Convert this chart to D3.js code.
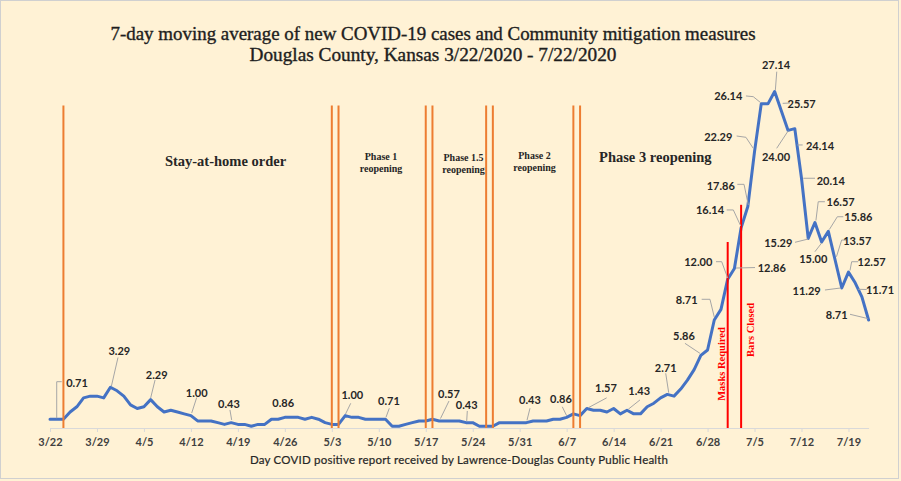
<!DOCTYPE html>
<html><head><meta charset="utf-8">
<script src="https://cdn.jsdelivr.net/npm/d3@7"></script>
<style>body{margin:0;background:#FFF2D5;} svg{display:block;}</style>
</head><body>
<script>
// ---------- DATA ----------
const startLabel = "3/22";
const endLabel = "7/22";
const values = [
 0.71,0.71,0.71,1.29,1.71,2.43,2.57,2.57,2.43,3.29,
 3.00,2.57,1.86,1.57,1.71,2.29,1.71,1.29,1.43,1.29,
 1.14,1.00,0.57,0.57,0.57,0.43,0.29,0.43,0.29,0.29,
 0.14,0.29,0.29,0.71,0.71,0.86,0.86,0.86,0.71,0.86,
 0.71,0.43,0.29,0.29,1.00,0.86,0.86,0.71,0.71,0.71,
 0.71,0.14,0.14,0.29,0.43,0.57,0.57,0.71,0.57,0.57,
 0.57,0.57,0.43,0.43,0.14,0.14,0.14,0.43,0.43,0.43,
 0.43,0.43,0.57,0.57,0.57,0.71,0.71,0.86,1.14,1.00,
 1.57,1.43,1.43,1.29,1.57,1.14,1.43,1.14,1.14,1.71,
 2.00,2.43,2.71,2.57,3.14,3.86,4.71,5.86,6.29,8.71,
 9.57,12.00,12.86,16.14,17.86,22.29,26.14,26.14,27.14,25.57,
 24.00,24.14,20.14,15.29,16.57,15.00,15.86,13.57,11.29,12.57,
 11.71,10.57,8.71
];
const tickLabels = ["3/22","3/29","4/5","4/12","4/19","4/26","5/3","5/10","5/17","5/24","5/31","6/7","6/14","6/21","6/28","7/5","7/12","7/19"];
const phaseLineDates = ["3/24","5/3","5/4","5/17","5/18","5/26","5/27","6/8","6/9"];
const maskDate = "7/1";
const barsDate = "7/3";
const labelDays = [1,9,15,21,27,35,44,50,58,62,71,77,80,86,92,97,99,101,102,103,104,105,106,108,109,110,111,112,113,114,115,116,117,118,119,120,122];
const titleLines = ["7-day moving average of  new COVID-19 cases and Community mitigation measures","Douglas County, Kansas 3/22/2020 - 7/22/2020"];
const xTitle = "Day COVID positive report received by Lawrence-Douglas County Public Health";

// ---------- LAYOUT (label offsets from their point, px) ----------
const labelLayout = [
 {t:[20.3,-36.7], l:[[0,-1],[0,-37.5],[5,-37.5]]},
 {t:[8.9,-37.2], l:[[7.6,-29.7],[1,-1]]},
 {t:[6.1,-25.6], l:[[4.4,-19.6],[0,-1.6]]},
 {t:[5.8,-22.9], l:[[5.8,-18.1],[0.8,-2.6]]},
 {t:[-2.2,-19.4], l:[[-1.2,-12.7],[0.5,-2.7]]},
 {t:[-1.6,-14.6], l:[]},
 {t:[7.1,-21.3], l:[[5.5,-12.3],[0.3,-1.6]]},
 {t:[3.5,-18.5], l:[[3.8,-10.9],[0.5,-1.9]]},
 {t:[9.8,-27.6], l:[[9.8,-19.9],[1.3,-2.4]]},
 {t:[0.7,-18.4], l:[[1.3,-11.7],[0.7,-1.7]]},
 {t:[3.6,-22.7], l:[[3.6,-14.4],[0.6,-2.4]]},
 {t:[-5.7,-19], l:[[-4.4,-10.6],[0,-1.6]]},
 {t:[19.2,-21.5], l:[[19.9,-10.7],[1.5,-0.8]]},
 {t:[12.2,-19.6], l:[[12.9,-10.3],[1.2,-1]]},
 {t:[-1.6,-27.1], l:[[-1.6,-21.1],[1.4,-1.7]]},
 {t:[-16.9,-20.3], l:[[-15.9,-12],[-0.9,-2]]},
 {t:[-27.6,-20.7], l:[[-12.6,-20.7],[-4.3,-20.7],[0,-3]]},
 {t:[-29.4,-17.5], l:[[-11.7,-17.5],[-6,-17.5],[0,-1.2]]},
 {t:[37.3,-0.8], l:[[1.6,-0.5],[20.6,-1]]},
 {t:[-31.1,-17.9], l:[[-14.4,-17.9],[-7.8,-17.9],[-0.4,-1.9]]},
 {t:[-27.1,-21.5], l:[[-10.5,-22.2],[-3.8,-22.2],[0.5,-1.5]]},
 {t:[-36.3,-14.9], l:[[-17.9,-15.6],[-8.6,-14.3],[-1.3,-3.3]]},
 {t:[-33,-7.9], l:[[-15.3,-7.9],[-8,-7.2],[-0.6,-1.2]]},
 {t:[1.4,-26.5], l:[[2.1,-19.8],[0.7,-1.5]]},
 {t:[20.3,-7.6], l:[[1.3,-7.6],[8.6,-7.9]]},
 {t:[-12.1,25.6], l:[[-11.4,17.9],[0.2,0.3]]},
 {t:[25.2,17], l:[[2.5,16.3],[7.9,16.3]]},
 {t:[29.2,2.7], l:[[1.8,0],[13.5,0]]},
 {t:[-29.9,3.9], l:[[-13.2,3.9],[0.1,0.6]]},
 {t:[25.7,-21.2], l:[[1,-2],[3.3,-20.8],[10,-20.8]]},
 {t:[-8.4,16.3], l:[[-6.7,9.7],[0,1]]},
 {t:[30,-14.6], l:[[1,-1.8],[9,-14.6],[15,-14.6]]},
 {t:[22.2,-19], l:[[1.4,-3],[6.6,-19.7],[11.6,-19.7]]},
 {t:[-35.1,2], l:[[-16.8,2],[-1.3,0]]},
 {t:[23.2,-10.4], l:[[1.5,-1.6],[3.2,-10.4],[9.8,-10.4]]},
 {t:[24.8,7.2], l:[[3.1,6.5],[11.5,6.7]]},
 {t:[-31.9,-5], l:[[-18.6,-5.7],[-1.1,-1.5]]}
];

// ---------- CHART ----------
const W = 901, H = 481;
const parse = s => { const [m,d] = s.split("/").map(Number); return new Date(Date.UTC(2020, m-1, d)); };
const start = parse(startLabel);
const dayDate = i => new Date(start.getTime() + i*86400000);

const x = d3.scaleUtc().domain([parse(startLabel), parse(endLabel)]).range([50, 868.6]);
const y = d3.scaleLinear().domain([0, 30]).range([428, 56]);

const svg = d3.select("body").append("svg").attr("width", W).attr("height", H);
svg.append("rect").attr("x",0.5).attr("y",0.5).attr("width",W-3).attr("height",H-3)
  .attr("fill","#FFF2D5").attr("stroke","#D0D0D0");

const serif = "'Liberation Serif','DejaVu Serif',serif";
const sans = "Lato,'Open Sans',sans-serif";

// title
svg.append("text").attr("x",433).attr("y",40).attr("text-anchor","middle")
  .attr("font-family",serif).attr("font-size",18).attr("fill","#1e1e1e")
  .attr("stroke","#1e1e1e").attr("stroke-width",0.35)
  .attr("textLength",645).attr("lengthAdjust","spacingAndGlyphs").text(titleLines[0]);
svg.append("text").attr("x",433).attr("y",60.5).attr("text-anchor","middle")
  .attr("font-family",serif).attr("font-size",18).attr("fill","#1e1e1e")
  .attr("stroke","#1e1e1e").attr("stroke-width",0.35)
  .attr("textLength",367).attr("lengthAdjust","spacingAndGlyphs").text(titleLines[1]);

// axis
const ax = svg.append("g").attr("transform","translate(0,428)")
  .call(d3.axisBottom(x).tickValues(tickLabels.map(parse)).tickFormat((d,i)=>tickLabels[i]).tickSize(4).tickSizeOuter(0));
ax.select(".domain").attr("stroke","#D9D9D9");
ax.selectAll(".tick line").attr("stroke","#D9D9D9");
ax.selectAll(".tick text").attr("y",10).attr("fill","#404040")
  .attr("font-family",sans).attr("font-size",11).attr("font-weight","bold");

svg.append("text").attr("x",459).attr("y",464).attr("text-anchor","middle")
  .attr("font-family",sans).attr("font-size",11.5).attr("fill","#262626")
  .attr("stroke","#262626").attr("stroke-width",0.2)
  .attr("textLength",418).attr("lengthAdjust","spacing").text(xTitle);

// line
const line = d3.line().x((d,i)=>x(dayDate(i))).y(d=>y(d));
svg.append("path").datum(values).attr("d",line).attr("fill","none")
  .attr("stroke","#4472C4").attr("stroke-width",3).attr("stroke-linejoin","round").attr("stroke-linecap","round");

// phase lines
svg.selectAll(".pl").data(phaseLineDates).enter().append("line")
  .attr("x1",d=>x(parse(d))).attr("x2",d=>x(parse(d)))
  .attr("y1",y(26)).attr("y2",y(0))
  .attr("stroke","#ED7D31").attr("stroke-width",2);

// red lines
[[maskDate,15],[barsDate,18]].forEach(([d,top])=>{
  svg.append("line").attr("x1",x(parse(d))).attr("x2",x(parse(d)))
    .attr("y1",y(top)).attr("y2",y(0)).attr("stroke","#FF0000").attr("stroke-width",2);
});

// red vertical texts
function vtext(cx, cy, txt){
  svg.append("text").attr("transform",`translate(${cx},${cy}) rotate(-90)`)
    .attr("text-anchor","middle").attr("dominant-baseline","central")
    .attr("font-family",serif).attr("font-size",10.5).attr("font-weight","bold")
    .attr("fill","#FF0000").text(txt);
}
vtext(721, 364, "Masks Required");
vtext(750.5, 330, "Bars Closed");

// phase text labels
function ptext(cx, cy, lines, size){
  lines.forEach((t,i)=>{
    svg.append("text").attr("x",cx).attr("y",cy + i*11.5)
      .attr("text-anchor","middle").attr("dominant-baseline","central")
      .attr("font-family",serif).attr("font-size",size).attr("font-weight","bold")
      .attr("fill","#262626").text(t);
  });
}
ptext(225.5, 161, ["Stay-at-home order"], 14.5);
ptext(381, 156.7, ["Phase 1","reopening"], 10);
ptext(463.5, 157.5, ["Phase 1.5","reopening"], 10);
ptext(534.5, 155.7, ["Phase 2","reopening"], 10);
ptext(655.3, 157, ["Phase 3 reopening"], 14.5);

// data labels
labelDays.forEach((d,k)=>{
  const px = x(dayDate(d)), py = y(values[d]);
  const L = labelLayout[k];
  if (L.l.length){
    svg.append("polyline").attr("points", L.l.map(p=>[px+p[0],py+p[1]].join(",")).join(" "))
      .attr("fill","none").attr("stroke","#A6A6A6").attr("stroke-width",1);
  }
  svg.append("text").attr("x",px+L.t[0]).attr("y",py+L.t[1])
    .attr("text-anchor","middle").attr("dominant-baseline","central")
    .attr("font-family",sans).attr("font-size",11).attr("font-weight","bold")
    .attr("fill","#262626").text(values[d].toFixed(2));
});
</script>
</body></html>
